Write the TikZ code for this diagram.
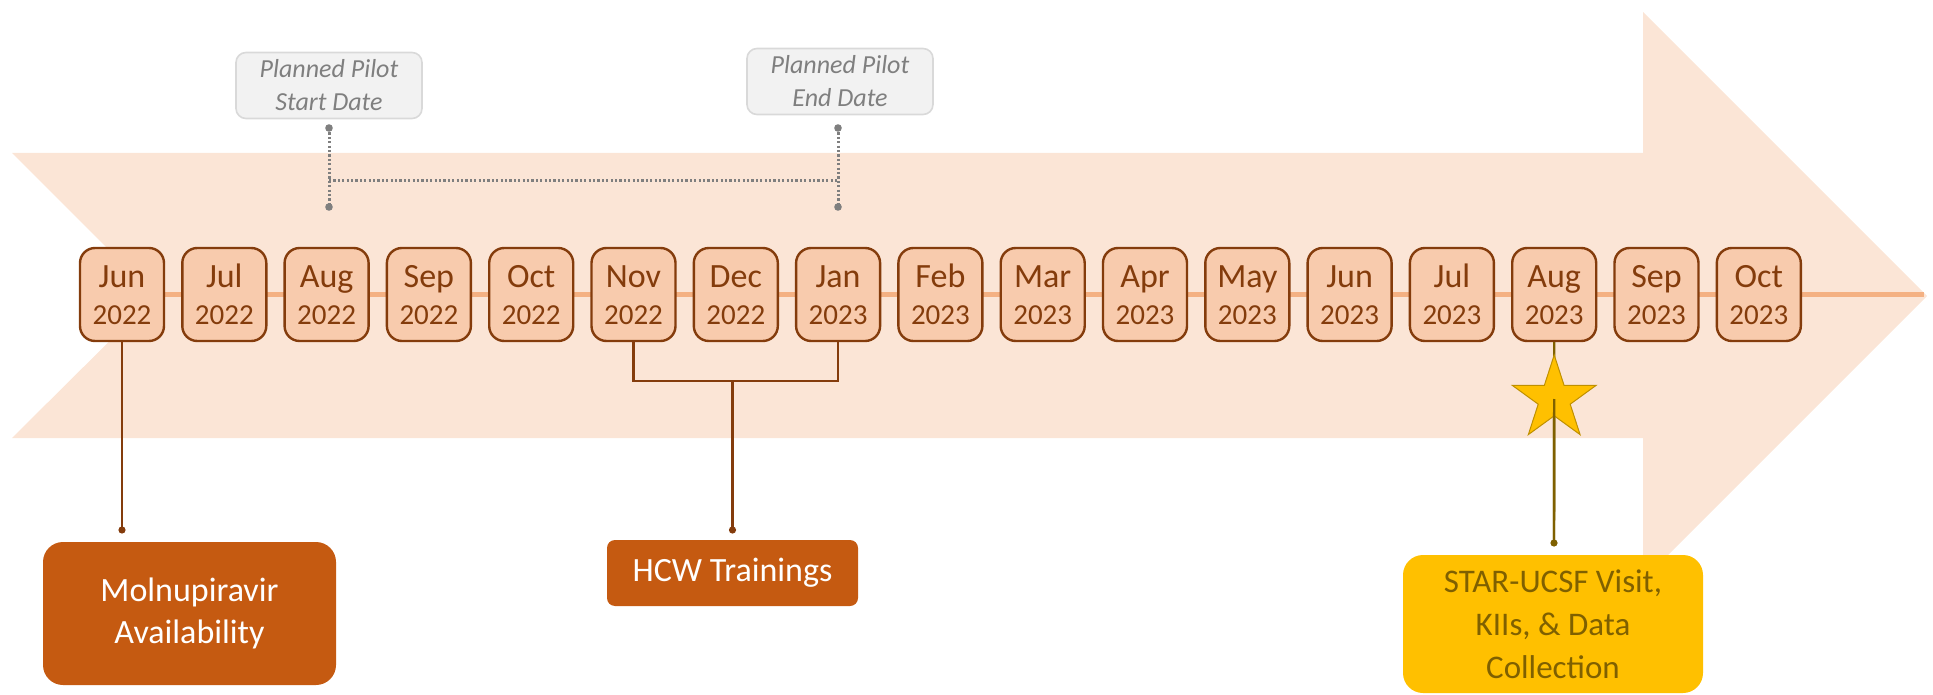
\documentclass[tikz,border=0pt]{standalone}
\usepackage{fontspec}
\setmainfont{Carlito}
\usetikzlibrary{shapes.geometric}
\definecolor{peach}{HTML}{FBE5D6}
\definecolor{boxfill}{HTML}{F8CBAD}
\definecolor{brownc}{HTML}{843C0C}
\definecolor{tlcol}{HTML}{F4B183}
\definecolor{rust}{HTML}{C55A11}
\definecolor{gold}{HTML}{FFC000}
\definecolor{goldedge}{HTML}{BF9000}
\definecolor{olive}{HTML}{7F6000}
\definecolor{pfill}{HTML}{F2F2F2}
\definecolor{pedge}{HTML}{D9D9D9}
\definecolor{ptext}{HTML}{7F7F7F}
\begin{document}
\begin{tikzpicture}[x=0.5pt,y=-0.5pt,
  monthbox/.style={draw=brownc, line width=1.2pt, fill=boxfill, rounded corners=7.5pt,
    minimum width=42pt, minimum height=46.5pt, inner sep=0pt},
  monthtxt/.style={text=brownc, font=\fontsize{17}{20}\selectfont, inner sep=0pt, anchor=base},
  yeartxt/.style={text=brownc, font=\fontsize{14.5}{17}\selectfont, inner sep=0pt, anchor=base},
  timeline/.style={draw=tlcol, line width=2.5pt},
  brownline/.style={draw=brownc, line width=1.3pt},
  goldline/.style={draw=olive, line width=1.2pt},
  plannedbox/.style={draw=pedge, line width=0.8pt, fill=pfill, rounded corners=5pt,
    minimum width=93pt, minimum height=33pt, inner sep=0pt, align=center,
    text=ptext, font=\itshape\fontsize{13}{16.5}\selectfont},
  guide/.style={draw=ptext, line width=1.5pt, dash pattern=on 1.1pt off 1.1pt},
  eventbox/.style={fill=rust, text=white, align=center, inner sep=0pt,
    font=\fontsize{17}{21}\selectfont},
  starbox/.style={fill=gold, text=olive, align=center, inner sep=0pt, rounded corners=10pt,
    minimum width=150pt, minimum height=69pt, font=\fontsize{16.5}{21.5}\selectfont}
]
\useasboundingbox (0,0) rectangle (1933,695);

% large background arrow
\fill[peach] (12,153) -- (1643,153) -- (1643,12) -- (1927,296) -- (1643,580)
  -- (1643,438) -- (12,438) -- (155,296) -- cycle;

% timeline axis
\coordinate (tlstart) at (122,295);
\coordinate (tip) at (1924,295);
\draw[timeline] (tlstart) -- (tip);

% month boxes
\foreach \mo/\yr [count=\i from 0] in {Jun/2022,Jul/2022,Aug/2022,Sep/2022,Oct/2022,
    Nov/2022,Dec/2022,Jan/2023,Feb/2023,Mar/2023,Apr/2023,May/2023,Jun/2023,
    Jul/2023,Aug/2023,Sep/2023,Oct/2023} {
  \pgfmathsetmacro{\cx}{122+102.3*\i}
  \node[monthbox] (m\i) at (\cx,294.5) {};
  \node[monthtxt] (mt\i) at (\cx,288) {\mo};
  \node[yeartxt] (yt\i) at (\cx,325) {\yr};
}

% planned pilot window
\node[plannedbox] (pstart) at (329,85.5) {Planned Pilot\\Start Date};
\node[plannedbox] (pend) at (840,81.5) {Planned Pilot\\End Date};
\coordinate (sd1) at (329,128);
\coordinate (sd2) at (329,207);
\coordinate (ed1) at (838,128);
\coordinate (ed2) at (838,207);
\coordinate (hs) at (329,181);
\coordinate (he) at (838,181);
\draw[guide] (sd1) -- (sd2);
\draw[guide] (ed1) -- (ed2);
\draw[guide] (hs) -- (he);
\foreach \p in {sd1,sd2,ed1,ed2} \fill[ptext] (\p) circle[radius=1.9pt];

% Molnupiravir availability
\node[eventbox, rounded corners=10pt, minimum width=146.5pt, minimum height=71.5pt]
  (molnu) at (189.5,613.5) {Molnupiravir\\Availability};
\coordinate (d0) at (122,530);
\draw[brownline] (m0.south) -- (d0);
\fill[brownc] (d0) circle[radius=1.8pt];

% HCW trainings
\node[eventbox, rounded corners=4pt, minimum width=125.5pt, minimum height=33pt]
  (hcw) at (732.5,573) {HCW Trainings};
\coordinate (bk) at (732.5,381);
\coordinate (dh) at (732.5,530);
\draw[brownline] (m5.south) |- (bk) -| (m7.south);
\draw[brownline] (bk) -- (dh);
\fill[brownc] (dh) circle[radius=1.8pt];

% site visit milestone
\coordinate (sdot) at (1554,543);
\draw[goldline] (m14.south) -- (sdot);
\node[star, star points=5, star point ratio=2.618, minimum size=44pt, inner sep=0pt,
  fill=gold, draw=goldedge, line width=0.5pt] (star) at (1554.2,399) {};
\draw[goldline] (star.center) -- (sdot);
\fill[olive] (sdot) circle[radius=1.8pt];
\node[starbox] (visit) at (1553,624) {STAR-UCSF Visit,\\KIIs, \& Data\\Collection};
\end{tikzpicture}
\end{document}
